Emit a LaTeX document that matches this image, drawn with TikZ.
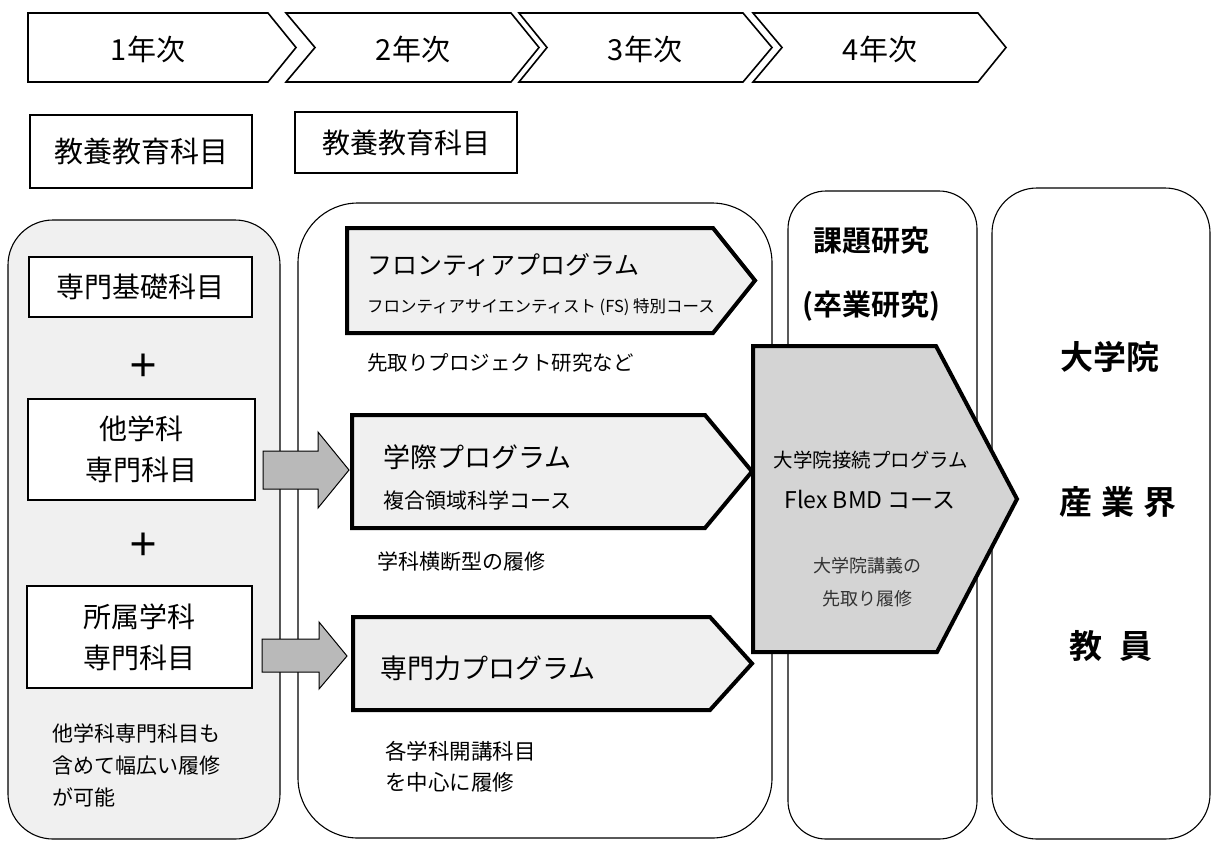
\documentclass[tikz,border=0pt]{standalone}
\usepackage{fontspec}
\setmainfont{Noto Sans CJK JP}[BoldFont={Noto Sans CJK JP Bold}]
\newcommand\fsz[2]{\fontsize{#1}{#2}\selectfont}
\definecolor{panelgray}{HTML}{F0F0F0}
\definecolor{proggray}{HTML}{F0F0F0}
\definecolor{biggray}{HTML}{D4D4D4}
\definecolor{arrgray}{HTML}{B9B9B9}
\definecolor{softtext}{HTML}{333333}
\begin{document}
\begin{tikzpicture}[x=1pt,y=-1pt,
  chev/.style={draw,line width=1.6pt,fill=white,line join=miter},
  plainbox/.style={draw,line width=1.5pt,fill=white,inner sep=0pt},
  panel/.style={draw,line width=1.1pt},
  prog/.style={draw,line width=4pt,fill=proggray,line join=miter},
  bigprog/.style={draw,line width=4pt,fill=biggray,line join=miter},
  blockarr/.style={draw,line width=1pt,fill=arrgray,line join=miter},
  txt/.style={inner sep=0pt,text=black},
]
\useasboundingbox (0,0) rectangle (1214,841);

% year chevrons
\draw[chev] (28,13) -- (268,13) -- (296,47.5) -- (268,82) -- (28,82) -- cycle;
\draw[chev] (286,13) -- (511,13) -- (539,47.5) -- (511,82) -- (286,82) -- (315,47.5) -- cycle;
\draw[chev] (519,13) -- (743,13) -- (772,47.5) -- (743,82) -- (519,82) -- (547,47.5) -- cycle;
\draw[chev] (753,13) -- (978,13) -- (1006,47.5) -- (978,82) -- (753,82) -- (782,47.5) -- cycle;
\node[txt,font=\fsz{29}{34}] (y1) at (148,49) {1年次};
\node[txt,font=\fsz{29}{34}] (y2) at (413,49) {2年次};
\node[txt,font=\fsz{29}{34}] (y3) at (645,49) {3年次};
\node[txt,font=\fsz{29}{34}] (y4) at (880,49) {4年次};

% liberal arts boxes
\node[plainbox,minimum width=222,minimum height=73,font=\fsz{29}{34}] (kyo1) at (141,151.5) {教養教育科目};
\node[plainbox,minimum width=222,minimum height=61,font=\fsz{28}{34}] (kyo2) at (406,142.5) {教養教育科目};

% column panels
\draw[panel,fill=panelgray,rounded corners=45] (8,220) rectangle (280,839);
\draw[panel,fill=white,rounded corners=60] (298,203) rectangle (772,838);
\draw[panel,fill=white,rounded corners=38] (788,191) rectangle (977,839);
\draw[panel,fill=white,rounded corners=45] (992,188) rectangle (1210,839);

% left column
\node[plainbox,minimum width=223,minimum height=60,font=\fsz{28}{34}] (kiso) at (140.5,287) {専門基礎科目};
\node[txt,font=\bfseries\fsz{32}{34}] (plus1) at (143,366) {＋};
\node[plainbox,minimum width=227,minimum height=101,align=center,font=\fsz{28}{41}] (tagaku) at (141.5,449.5) {他学科\\専門科目};
\node[txt,font=\bfseries\fsz{32}{34}] (plus2) at (143,545) {＋};
\node[plainbox,minimum width=225,minimum height=102,align=center,font=\fsz{28}{41}] (shozoku) at (139.5,637) {所属学科\\専門科目};
\node[txt,anchor=west,align=left,font=\fsz{21}{32}] (leftnote) at (52,765) {他学科専門科目も\\含めて幅広い履修\\が可能};

% block arrows
\draw[blockarr] (263,451) -- (318,451) -- (318,432) -- (349,470) -- (318,508) -- (318,489) -- (263,489) -- cycle;
\draw[blockarr] (262,639) -- (319,639) -- (319,622) -- (347,656) -- (319,689) -- (319,672) -- (262,672) -- cycle;

% programs
\draw[prog] (347,228) -- (713,228) -- (755,280.5) -- (713,333) -- (347,333) -- cycle;
\node[txt,anchor=west,font=\fsz{25}{30}] (fr) at (367,265) {フロンティアプログラム};
\node[txt,anchor=west,font=\fsz{16.5}{20}] (frs) at (367,307) {フロンティアサイエンティスト (FS) 特別コース};
\node[txt,anchor=west,font=\fsz{20.5}{25}] (frn) at (367,363) {先取りプロジェクト研究など};

\draw[prog] (352,415) -- (705,415) -- (752,471.5) -- (705,528) -- (352,528) -- cycle;
\node[txt,anchor=west,font=\fsz{27}{32}] (gs) at (383,457) {学際プログラム};
\node[txt,anchor=west,font=\fsz{21}{25}] (gss) at (383,500) {複合領域科学コース};
\node[txt,anchor=west,font=\fsz{21}{25}] (gsn) at (377,562) {学科横断型の履修};

\draw[prog] (353,617) -- (710,617) -- (752,663.5) -- (710,710) -- (353,710) -- cycle;
\node[txt,anchor=west,font=\fsz{27}{32}] (sm) at (380,668) {専門力プログラム};
\node[txt,anchor=west,align=left,font=\fsz{21.5}{31}] (smn) at (385,767) {各学科開講科目\\を中心に履修};

% graduate connection program
\draw[bigprog] (753,346) -- (936,346) -- (1017,499) -- (937,652) -- (753,652) -- cycle;
\node[txt,font=\fsz{19.5}{24}] (bmd1) at (871,460) {大学院接続プログラム};
\node[txt,font=\fsz{23}{28}] (bmd2) at (870,500) {Flex BMD コース};
\node[txt,align=center,text=softtext,font=\fsz{18}{33}] (bmd3) at (867,582) {大学院講義の\\先取り履修};

% research column
\node[txt,font=\bfseries\fsz{29}{34}] (kadai) at (871,241) {課題研究};
\node[txt,font=\bfseries\fsz{29}{34}] (sotsu) at (871,306) {(卒業研究)};

% destinations
\node[txt,font=\bfseries\fsz{33}{38}] (daigakuin) at (1110,357) {大学院};
\node[txt,font=\bfseries\fsz{33}{38}] (sangyo) at (1118,502) {産\hspace{9pt}業\hspace{9pt}界};
\node[txt,font=\bfseries\fsz{33}{38}] (kyoin) at (1111,646) {教\hspace{17pt}員};
\end{tikzpicture}
\end{document}
